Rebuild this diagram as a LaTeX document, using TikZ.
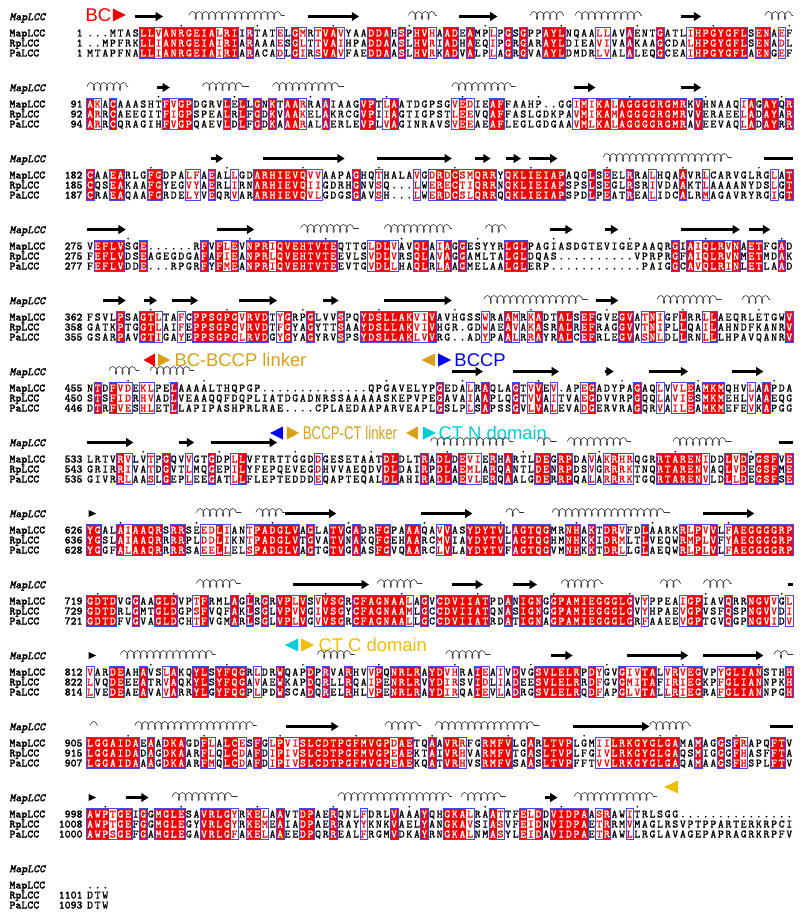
\documentclass[tikz,border=0pt]{standalone}
\usepackage{fontspec}
\newfontfamily\labfont{Liberation Sans}
\newfontfamily\seqfont{Latin Modern Mono}[FakeBold=0.6]
\newfontfamily\namefont{Latin Modern Mono}[FakeBold=2]
\newfontfamily\namefontit{Latin Modern Mono}[FakeBold=2,FakeSlant=0.2]
\usetikzlibrary{arrows.meta,decorations.pathmorphing}

\definecolor{idred}{RGB}{245,0,0}
\definecolor{frameblue}{RGB}{70,70,245}
\definecolor{linkgold}{RGB}{215,160,25}
\definecolor{ctgold}{RGB}{240,190,0}
\definecolor{domcyan}{RGB}{0,205,215}
\definecolor{bccpblue}{RGB}{0,0,240}

\tikzset{every picture/.style={line width=0.75pt}}
\tikzset{
  res/.style={font=\seqfont\fontsize{8.5}{9}\selectfont, inner sep=0pt, anchor=base},
  seqname/.style={font=\namefont\fontsize{8.4}{9}\selectfont, inner sep=0pt, anchor=base west},
  seqnum/.style={font=\namefont\fontsize{8.4}{9}\selectfont, inner sep=0pt, anchor=base east},
  sshead/.style={font=\namefontit\fontsize{8.4}{9}\selectfont, inner sep=0pt, anchor=west},
  strand/.style={line width=1.9pt, -{Triangle[length=5.5pt,width=6.5pt]}},
  sbar/.style={line width=1.9pt},
  helix/.style={decorate, decoration={coil, aspect=0.5, segment length=4.9pt, amplitude=3pt}, line width=0.45pt, black!80},
  simframe/.style={draw=frameblue, line width=0.45pt},
  domlabel/.style={font=\labfont\fontsize{13.8}{14}\selectfont, inner sep=0pt, anchor=west},
}

\makeatletter
% similarity groups
\def\aln@defg#1#2{\ifx\relax#2\relax\else\aln@defgi{#1}#2\@nil\fi}
\def\aln@defgi#1#2#3\@nil{\expandafter\def\csname aln@g@#2\endcsname{#1}\aln@defg{#1}{#3}}
\aln@defg{a}{ILVM}\aln@defg{b}{FYW}\aln@defg{c}{KRH}\aln@defg{d}{DE}
\aln@defg{e}{NQ}\aln@defg{f}{ST}\aln@defg{g}{A}\aln@defg{h}{G}
\aln@defg{i}{P}\aln@defg{j}{C}\aln@defg{x}{.}
\def\aln@gap{x}
\newcount\aln@colc
\newcount\aln@num
\newif\ifaln@run
\newif\ifaln@ident

\def\aln@frame{\draw[simframe] (\aln@start,\aln@y+9.5) rectangle (\the\aln@colc,\aln@y+40.5);}

\def\aln@col#1#2#3{%
  \edef\aln@x{\the\aln@colc}%
  \edef\aln@ga{\csname aln@g@#1\endcsname}%
  \edef\aln@gb{\csname aln@g@#2\endcsname}%
  \edef\aln@gc{\csname aln@g@#3\endcsname}%
  \aln@identfalse
  \def\aln@sim{0}%
  \ifx\aln@ga\aln@gap\else
    \ifx\aln@ga\aln@gb\ifx\aln@gb\aln@gc\def\aln@sim{1}\fi\fi
    \if#1#2\if#2#3\aln@identtrue\fi\fi
  \fi
  \ifaln@ident
    \fill[idred] (\aln@x,\aln@y+10) rectangle (\aln@x+1,\aln@y+40);
    \def\aln@tc{white}%
  \else
    \if1\aln@sim\def\aln@tc{idred}\else\def\aln@tc{black}\fi
  \fi
  \node[res, text=\aln@tc] (r\aln@y-\aln@x-a) at (\aln@x+0.5,\aln@y+18.5) {#1};
  \node[res, text=\aln@tc] (r\aln@y-\aln@x-b) at (\aln@x+0.5,\aln@y+28.5) {#2};
  \node[res, text=\aln@tc] (r\aln@y-\aln@x-c) at (\aln@x+0.5,\aln@y+38.5) {#3};
  % frames round runs of similar columns
  \if1\aln@sim
    \ifaln@run\else\global\aln@runtrue\xdef\aln@start{\the\aln@colc}\fi
  \else
    \ifaln@run\aln@frame\global\aln@runfalse\fi
  \fi
  % a tick every ten residues of the first sequence
  \if.#1\else
    \ifnum\numexpr\aln@num-(\aln@num/10)*10\relax=0
      \node[res] (t\aln@y-\aln@x) at (\aln@x+0.5,\aln@y+8.5) {.};
    \fi
    \global\advance\aln@num by 1
  \fi}

\def\aln@walk#1#2\@nil#3#4\@nil#5#6\@nil{%
  \aln@col{#1}{#3}{#5}%
  \global\advance\aln@colc by 1
  \ifx\relax#2\relax
    \let\aln@next\aln@finish
  \else
    \def\aln@next{\aln@walk#2\@nil#4\@nil#6\@nil}%
  \fi
  \aln@next}
\def\aln@finish{\ifaln@run\aln@frame\fi\global\aln@runfalse}

% #1 y of the block, #2-#4 first numbers, #5-#7 the three rows
\newcommand\alnblock[7]{%
  \def\aln@y{#1}%
  \node[sshead] (hd#1) at (-10.17,#1) {MapLCC};
  \node[seqname] (na#1) at (-10.17,#1+18.5) {MapLCC};
  \node[seqname] (nb#1) at (-10.17,#1+28.5) {RpLCC};
  \node[seqname] (nc#1) at (-10.17,#1+38.5) {PaLCC};
  \node[seqnum] (ka#1) at (-0.43,#1+18.5) {#2};
  \node[seqnum] (kb#1) at (-0.43,#1+28.5) {#3};
  \node[seqnum] (kc#1) at (-0.43,#1+38.5) {#4};
  \global\aln@colc=0
  \global\aln@num=0#2\relax
  \global\aln@runfalse
  \aln@walk#5\@nil#6\@nil#7\@nil}
\makeatother

% secondary structure of MapLCC
\newcommand\sst[3]{\draw[strand] (#2,#1-1.5) -- (#3,#1-1.5);}
\newcommand\ssh[3]{\draw[helix] (#2,#1-2.5) -- (#3,#1-2.5);}
\newcommand\ssb[3]{\draw[sbar] (#2,#1-1.5) -- (#3,#1-1.5);}
\newcommand\ssarr[1]{\fill (0.3,#1-5) -- (1.3,#1-1.5) -- (0.3,#1+2) -- cycle;}
% domain marks
\newcommand\markl[4]{\fill[#1] (#2,#4) -- (#3,#4-6.5) -- (#3,#4+6.5) -- cycle;}
\newcommand\markr[4]{\fill[#1] (#2,#4-6.5) -- (#3,#4) -- (#2,#4+6.5) -- cycle;}

\begin{document}
\begin{tikzpicture}[x=5.7pt,y=-0.75pt]
\useasboundingbox (-11.355,0) rectangle (93.908,920);

%Block 1
\node[domlabel, text=idred] (bc) at (-0.17,15) {BC};
\markr{idred}{3.51}{5.22}{15}
\sst{18}{6.4}{10.1}\ssh{18}{13.5}{26.1}\sst{18}{29.2}{35.9}\ssh{18}{42.4}{46.1}
\sst{18}{49.1}{54.1}\ssh{18}{58.4}{62.8}\ssh{18}{64.3}{73.1}\sst{18}{78.2}{80.9}\ssh{18}{89.3}{93}
\alnblock{18}{1}{1}{1}
{...MTASLLVANRGEIALRIIRTATELGMRTVAVYAADDAHSPHVHAADEAMPLPGSGPPAYLNQAALLAVAENTGATLIHPGYGFLSENAEF}
{..MPFRKLLIANRGEIAIRIARAAAESGLTTVAIHPADDAASLHVRIADHAEQIPGRGARAYLDIEAVIVAAKAAGCDALHPGYGFLSENADL}
{MTAPFNALLIANRGEIAIRIARACADLGIRSVAVFAEDDAASLHVRKADVALPLAGRGVAAYLDMDRLVALALEQGCEAIHPGYGFLAENGEF}

%Block 2
\ssh{89}{0.1}{5.5}\sst{89}{9.3}{11}\ssh{89}{15.3}{21.4}\ssh{89}{24.5}{33.9}
\ssh{89}{48.1}{56.5}\sst{89}{64.2}{67}\sst{89}{78.2}{80.9}
\alnblock{89}{91}{92}{94}
{AKACAAASHTFVGPDGRVLELLGNKTAARRAAIAAGVPTLAATDGPSGVEDIEAFFAAHP..GGIMIKALAGGGGRGMRKVHNAAQIAGAYQR}
{ARRCAEEGITFIGPSPEALRLFGDKVAAKELAKRCGVPIIAGTIGPSTLEEVQAFFASLGDKPAVMIKAMAGGGGRGMRVVERAEELADAYAR}
{ARRCQRAGIHFVGPQAEVLDLFGDKAAARALAERLEVPLVAGINRAVSVEEAEAFLEGLGDGAAVMLKALAGGGGRGMRAVEEVAQLADAYRR}

%Block 3
\sst{160}{16.4}{18}\sst{160}{23.2}{34}\sst{160}{38.2}{48.1}\sst{160}{51.2}{53.2}
\sst{160}{55.2}{57.2}\sst{160}{58.2}{62}\ssh{160}{68}{84.9}\ssb{160}{89.2}{93}
\alnblock{160}{182}{185}{187}
{CAAEARLGFGDPALFAEALLGDARHIEVQVVAAPAGHQTHALAVGDRDCSMQRRYQKLIEIAPAQGLSEELRRALHQAAVRLCARVGLRGLAT}
{CQSEAKAAFGYEGVYAERLIRNARHIEVQIIGDRHGNVSQ...LWERECTIQRRNQKLIEIAPSPSLSEGLRSRIVDAAKTLAAAANYDSLGT}
{CRAEAQAAFGRDELYVEQRVARARHIEVQVLGDGSGAVSH...LWERDCSLQRRQQKLIEIAPSPDLPEATREALIDCALRMAGAVRYRGIGT}

%Block 4
\sst{231}{0.1}{5.2}\sst{231}{17.2}{22.1}\ssh{231}{28.2}{35.9}\ssh{231}{39.2}{48.1}\ssh{231}{52.5}{55.2}
\sst{231}{61}{64}\sst{231}{68.2}{70}\sst{231}{78.2}{86}\sst{231}{87.2}{90}
\alnblock{231}{275}{275}{277}
{VEFLVSGE......RFVFLEVNPRIQVEHTVTEQTTGLDLVAVQLAIAGGESYYRLGLPAGIASDGTEVIGEPAAQRGIAIQLRVNAETFGAD}
{FEFLVDSEAGEGDGAFAFIEANPRLQVEHTVTEEVLSVDLVRSQLAVAGGAMLTALGLDQAS..........VPRPRGFAIQLRVNMETMDAK}
{FEFLVDDE...RPGRFYFMEANPRIQVEHTVTEEVTGVDLLHAQLRLAAGMELAALGLERP............PAIGGCAVQLRINLETLAAD}

%Block 5
\sst{302}{2.2}{5.2}\sst{302}{7.6}{9.3}\sst{302}{11.3}{14.7}\sst{302}{20.1}{25.1}\sst{302}{31.2}{33.2}
\sst{302}{39.2}{48.1}\ssh{302}{52.3}{66}\sst{302}{67}{70}\ssh{302}{75.1}{83.6}\ssh{302}{86.3}{90}
\alnblock{302}{362}{358}{355}
{FSVLPSAGTLTAFCPPSGPGVRVDTYGRPGLVVSPQYDSLLAKVIVAVHGSSWRAAMRKADTALSEFGVEGVATNIGFLRRLLAEQRLETGWV}
{GATKPTGGTLAIFEPPSGPGVRVDTFGYAGYTTSAAYDSLLAKVIVHGR.GDWAEAVAKASRALREFRAGGVVTNIPLLQAILAHNDFKANRV}
{GSARPAVGTIGAYEPPSGPGLRVDGYGYAGYRVSPSYDSLLAKLVVRG..ADYPAALRRAYRALCEFRLEGVASNLDLLRNLLLHPAVQANRV}

% BC-BCCP linker and BCCP
\markl{idred}{7.54}{9.03}{360}\markr{linkgold}{9.43}{11.01}{360}
\node[domlabel, text=linkgold] (lk1) at (11.54,360) {BC-BCCP linker};
\markl{linkgold}{44.1}{45.9}{360}\markr{bccpblue}{46.28}{47.99}{360}
\node[domlabel, text=bccpblue] (bccp) at (48.38,360) {BCCP};

%Block 6
\ssh{373}{3}{7}\ssh{373}{8.4}{14.2}\sst{373}{48.1}{52.2}\sst{373}{56.2}{62.2}
\sst{373}{68.2}{69.4}\sst{373}{74.1}{79.2}\sst{373}{84.9}{89.1}
\alnblock{373}{455}{450}{446}
{NTDFVDEKLPELAAAALTHQPGP..............QPGAVELYPGEDALRAQLAGTVVEV.APEGADYPAGAQLVVLEAMKMQHVLAAPDA}
{STSFIDRHVADLVEAAQQFDQPLIATDGADNRSSAAAAASKEPVPEGAVAIAAPLQGTVVAITVAEGDVVRPGQQLAVIESMKMEHLVAAEQG}
{DTRFVESHLETLLAPIPASHPRLRAE....CPLAEDAAPARVEAPLGSLPLSAPSSGVLVALEVADGERVRAGQRVAILEAMKMEFEVKAPGG}

% BCCP-CT linker and CT N domain
\markl{bccpblue}{24.17}{25.88}{433}\markr{linkgold}{26.41}{27.99}{433}
\node[domlabel, text=linkgold, xscale=0.72] (lk2) at (28.45,433) {BCCP-CT linker};
\markl{linkgold}{42.07}{43.64}{433}\markr{domcyan}{44.3}{46.0}{433}
\node[domlabel, text=domcyan] (ctn) at (46.28,433) {CT N domain};

%Block 7
\sst{444}{0.1}{6.2}\sst{444}{12.2}{14.2}\sst{444}{16.4}{25.1}\ssh{444}{45.3}{56.2}
\ssh{444}{59.3}{61.9}\ssh{444}{63.3}{71.7}\ssh{444}{77.2}{84.9}\ssb{444}{91.2}{93}
\alnblock{444}{533}{543}{535}
{LRTVRVLVTPGQVVGTGDPLLVFTRTTGGDDGESETAATDLDLTRADLDEVIERHARTLDEGRPDAVAKRHRQGRRTARENIDDLVDPGSFVE}
{GRIRRIVATDGVTLMQGEPILYFEPQEVEGDHVVAEQDVDLDAIRPDLAEMLARQANTLDENRPDSVGRRRKTNQRTARENVAQLVDEGSFME}
{GIVRRLAASLGEPLEEGATLLFLEPTEDDDEQAPTEQALDLAHIRADLAEVLERQAALGDERRPQALARRRKTGQRTARENVLDLLDEGSFSE}

%Block 8
\ssarr{515}\ssh{515}{14.5}{20.4}\ssh{515}{22.3}{26.1}\sst{515}{26.1}{32.9}\sst{515}{44.1}{50.8}
\ssh{515}{55.2}{57.6}\ssh{515}{61.3}{76.8}\sst{515}{81.1}{87.9}
\alnblock{515}{626}{636}{628}
{YGALAIAAQRSRRSEEDLIANTPADGLVAGLATVGADRFGPAAAQAVVASYDYTVLAGTQGMRNHAKTDRVFDLAARKRLPVVLFAEGGGGRP}
{YGSLAIAAQRRRRPLDDLIKNTPADGLVTGVATVNAKQFGEHAARCMVIAYDYTVLAGTQGHMNHKKIDRMLTLVEQWRMPLVFYAEGGGGRP}
{YGGFALAAQRRRRSAEELLELSPADGLVAGTGTVGAASFGVQAARCLVLAYDYTVFAGTQGVMNHKKTDRLLGLAEQWRLPLVLFAEGGGGRP}

%Block 9
\ssh{586}{14.5}{20.3}\sst{586}{27.2}{37.2}\ssh{586}{38.3}{44.2}\sst{586}{48.1}{52.2}\sst{586}{56.2}{59.3}
\ssh{586}{62.5}{68}\ssh{586}{75.5}{78.2}\ssh{586}{81.2}{84.9}\ssb{586}{92.3}{93}
\alnblock{586}{719}{729}{721}
{GDTDVGGAAGLDVPTFRMLAGLRGRVPLVSVVSGRCFAGNAALAGVCDVIIATPDANIGNGGPAMIEGGGLGVYPPEAIGPIAVQRRNGVVGL}
{GDTDRLGMTGLDGPSFVQFAKLSGLVPVVGIVSGYCFAGNAAMLGCCDVIIATQNASIGNGGPAMIEGGGLGVYHPAEVGPVSFQSPNGVVDI}
{GDTDFVGVAGLDCHTFVGMARLSGLVPLVGVVSGRCFAGNAALLGCCDVIIATRDATIGNAGPAMIEGGGLGRFAAEEVGPTGVQGPNGVIDV}

% CT C domain
\markl{domcyan}{26.14}{27.86}{645}\markr{ctgold}{28.25}{29.96}{645}
\node[domlabel, text=ctgold] (ctc) at (30.49,645) {CT C domain};

%Block 10
\ssarr{657}\ssh{657}{4.5}{17}\ssh{657}{30.4}{35.3}\ssh{657}{47.3}{53.2}\sst{657}{61.1}{64}
\sst{657}{71.1}{79.2}\sst{657}{81.1}{89.1}\ssh{657}{90.5}{93}
\alnblock{657}{812}{822}{814}
{VARDEAHAVSLAKQYLSYFQGRLDRWQAPDPRVARHVVPQNRLRAYDVHRAIEAIVDVGSVLELRPDYGVGIVTALVRVEGVPYGLIANSTHH}
{LVQDEEEATRVAQKYLSYFQGAVAEWKAPDQRLLRQAIPENRLRVYDIRSVIDLIADEESVLELRRDFGVGMITAFIRIEGKPFGLIANNPKH}
{LVEDEAEAVAVARRYLGYFQGPLPDWSCADQRELRHLVPENRLRAYDIRQAIEVLADRGSVLELRQDFAPGLVTALLRIEGRAFGLIANNPGH}

%Block 11
\ssh{728}{0.5}{1.5}\ssh{728}{6.4}{22.4}\sst{728}{26.3}{33.2}\ssh{728}{39.3}{44.1}\ssh{728}{45.9}{59.6}
\sst{728}{64}{74.1}\ssh{728}{74.1}{79.5}\ssb{728}{90}{93}
\alnblock{728}{905}{915}{907}
{LGGAIDAEAADKAGDFLALCESFGLPVISLCDTPGFMVGPDAETQAAVRRFGRMFVLGARLTVPLGMIILRKGYGLGAMAMAGGSFRAPQFTV}
{LGGAIDADAGDKAARFLQLCDAFDIPIVSLCDTPGFMVGPEAEKTAIVRHVARMFVTGASLTVPLFGIVLRKGYGLGAQSMIGGGFHASFFTA}
{LGGAIDAAAGDKAARFMQLCDAFDIPIVSLCDTPGFMVGPEAEKQATVRHVSRMFVSAASLTVPFFTVVLRKGYGLGAQAMAAGSFHSPLFTV}

% end of CT C domain
\markl{ctgold}{76.0}{77.86}{787}

%Block 12
\ssarr{799}\sst{799}{5.2}{8.2}\ssh{799}{11.3}{19.9}\ssh{799}{33.1}{48.1}\ssh{799}{49.3}{55.2}
\sst{799}{60.3}{62}\ssh{799}{64.2}{75.1}
\alnblock{799}{998}{1008}{1000}
{AWPTGEIGGMGLESAVRLGYRKELAAVTDPAERQNLFDRLVAAAYQHGKALRAATTFELDDVIDPAASRAWITRLSGG...............}
{AWPTGEFGGMGLEGYVRLGYRKEMEAIADPAERRAYYKNKVAELYANGKAVSIASVFEIDNVIDPAETRRMVMAGLRSVPTPPARTERKRPCI}
{AWPSGEFGAMGLEGAVRLGFAKELAAEEDPQRREALFRGMVDKAYRNGKALNMASYLEIDAVIDPAETRAWLLRGLAVAGEPAPRAGRKRPFV}

%Block 13
\alnblock{870}{}{1101}{1093}{...}{DTW}{DTW}

\end{tikzpicture}
\end{document}
